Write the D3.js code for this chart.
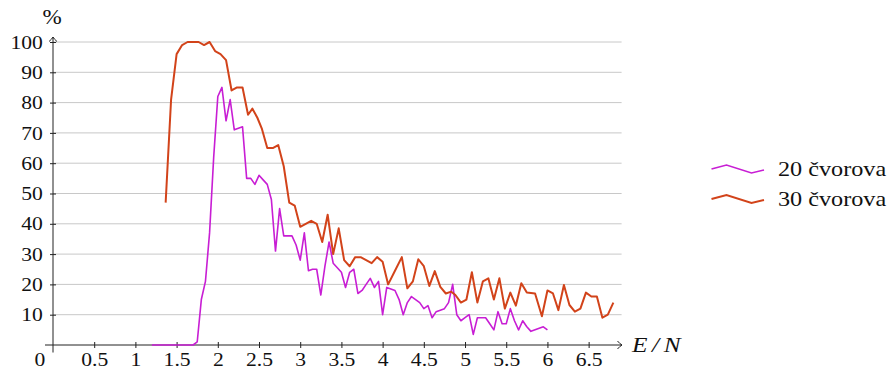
<!DOCTYPE html>
<html lang="hr">
<head>
<meta charset="UTF-8">
<title>Postotak u ovisnosti o E/N</title>
<script src="https://d3js.org/d3.v7.min.js"></script>
<style>
    body { margin: 0; background: #fff; }
    svg { display: block; background: #fff; }
    .grid line { stroke: #c8c8c8; stroke-width: 1px; }
    .axis-line { stroke: #222; stroke-width: 1px; fill: none; }
    .series { fill: none; stroke-linejoin: round; }
</style>
</head>
<body>
<svg width="894" height="372"></svg>
<script>
    // tick values
    var xTicks = [0.5, 1, 1.5, 2, 2.5, 3, 3.5, 4, 4.5, 5, 5.5, 6, 6.5];
    var yTicks = [10, 20, 30, 40, 50, 60, 70, 80, 90, 100];

    var seriesNames = ["20 čvorova", "30 čvorova"];
    var seriesColors = ["#c81ed4", "#d2431a"];

    // 20 čvorova
    var purpleX = [1.2, 1.25, 1.3, 1.35, 1.4, 1.45, 1.5, 1.55, 1.6, 1.65, 1.7,
        1.75, 1.8, 1.85, 1.9, 1.95, 2, 2.05, 2.1, 2.15, 2.2,
        2.25, 2.3, 2.35, 2.4, 2.45, 2.5, 2.55, 2.6, 2.65, 2.7,
        2.75, 2.8, 2.85, 2.9, 2.95, 3, 3.05, 3.1, 3.15, 3.2,
        3.25, 3.3, 3.35, 3.4, 3.45, 3.5, 3.55, 3.6, 3.65, 3.7,
        3.75, 3.8, 3.85, 3.9, 3.95, 4, 4.05, 4.1, 4.15, 4.2,
        4.25, 4.3, 4.35, 4.4, 4.45, 4.5, 4.55, 4.6, 4.65, 4.7,
        4.75, 4.8, 4.85, 4.9, 4.95, 5, 5.05, 5.1, 5.15, 5.2,
        5.25, 5.3, 5.35, 5.4, 5.45, 5.5, 5.55, 5.6, 5.65, 5.7,
        5.75, 5.8, 5.85, 5.9, 5.95, 6];
    var purpleY = [0, 0, 0, 0, 0, 0, 0, 0, 0, 0, 0,
        1, 15, 21, 37, 62, 82, 85, 74, 81, 71,
        71.5, 72, 55, 55, 53, 56, 54.5, 53, 48, 31,
        45, 36, 36, 36, 33, 28, 37, 24.5, 25, 25,
        16.5, 26, 34, 27, 25.5, 24, 19, 24, 25, 17,
        18, 20, 22, 19, 21, 10, 19, 18.5, 18, 15,
        10, 14, 16, 15, 14, 12, 13, 9, 11, 11.5,
        12, 14, 20, 10, 8, 9, 10, 3.5, 9, 9,
        9, 7, 5, 11, 7, 7, 12, 8, 5, 8,
        6, 4.5, 5, 5.5, 6, 5];

    // 30 čvorova
    var orangeX = [1.367, 1.433, 1.5, 1.567, 1.633, 1.7, 1.767, 1.833, 1.9, 1.967,
        2.033, 2.1, 2.167, 2.233, 2.3, 2.367, 2.42, 2.48, 2.533, 2.6,
        2.667, 2.733, 2.8, 2.867, 2.933, 3, 3.067, 3.133, 3.2, 3.267,
        3.333, 3.4, 3.467, 3.533, 3.6, 3.667, 3.733, 3.8, 3.867, 3.933,
        4, 4.067, 4.15, 4.233, 4.3, 4.367, 4.433, 4.5, 4.567, 4.633,
        4.7, 4.767, 4.833, 4.883, 4.95, 5.017, 5.083, 5.15, 5.217, 5.283,
        5.35, 5.417, 5.483, 5.55, 5.617, 5.683, 5.75, 5.85, 5.933, 6,
        6.067, 6.133, 6.2, 6.267, 6.333, 6.4, 6.467, 6.533, 6.6, 6.667,
        6.733, 6.8];
    var orangeY = [47, 81, 96, 99, 100, 100, 100, 99, 100, 97,
        96, 94, 84, 85, 85, 76, 78, 75, 71.5, 65,
        65, 66, 59, 47, 46, 39, 40, 41, 40, 34,
        43, 30, 38.5, 28, 26, 29, 29, 28, 27, 29,
        27.5, 20, 24.5, 29, 18.7, 21, 28.3, 26, 19.5, 24.4,
        19.2, 17, 17.6, 16.5, 14, 15, 24, 14, 21, 22,
        15, 22, 12, 17.3, 13, 20.4, 17.3, 17, 9.5, 18,
        17, 11.5, 19.8, 13.2, 11, 12, 17.3, 16, 16, 9,
        10, 14];

    var serif = "'Liberation Serif', 'DejaVu Serif', 'Times New Roman', serif";

    var svg = d3.select("svg");

    var x = d3.scaleLinear().domain([0, 6.9]).range([53, 621.6]);
    var y = d3.scaleLinear().domain([0, 100]).range([345, 42]);

    // grid
    svg.append("g").attr("class", "grid")
        .selectAll("line")
        .data(yTicks)
        .enter().append("line")
        .attr("x1", x(0)).attr("x2", x(6.9))
        .attr("y1", function(d) { return y(d); })
        .attr("y2", function(d) { return y(d); });

    // x axis
    var xAxis = svg.append("g")
        .attr("transform", "translate(0," + y(0) + ")")
        .call(d3.axisBottom(x).tickValues(xTicks).tickSize(3).tickFormat(d3.format("")));
    xAxis.select(".domain").remove();
    xAxis.attr("font-family", serif).attr("font-size", 18);
    xAxis.selectAll(".tick line").attr("y1", -3).attr("y2", 3).attr("stroke", "#222");
    xAxis.selectAll(".tick text").attr("y", 21).attr("dy", null).attr("fill", "#111")
        .attr("transform", "scale(1.2,1)");

    // y axis
    var yAxis = svg.append("g")
        .attr("transform", "translate(" + x(0) + ",0)")
        .call(d3.axisLeft(y).tickValues(yTicks).tickSize(3));
    yAxis.select(".domain").remove();
    yAxis.attr("font-family", serif).attr("font-size", 18);
    yAxis.selectAll(".tick line").attr("x1", -3).attr("x2", 3).attr("stroke", "#222");
    yAxis.selectAll(".tick text").attr("x", -8.5).attr("dy", "0.34em").attr("fill", "#111")
        .attr("transform", "scale(1.2,1)");

    // axis lines with arrows
    var x0 = x(0), y0 = y(0), xEnd = 622, yEnd = 37;
    svg.append("path").attr("class", "axis-line")
        .attr("d", "M45," + y0 + "H" + xEnd);
    svg.append("path").attr("class", "axis-line")
        .attr("d", "M" + x0 + ",352.5V" + yEnd);
    svg.append("path").attr("class", "axis-line").attr("stroke-width", 0.9)
        .attr("d", "M" + (xEnd - 4.5) + "," + (y0 - 4) + "Q" + (xEnd - 2) + "," + (y0 - 1) + " " + xEnd + "," + y0 +
            "Q" + (xEnd - 2) + "," + (y0 + 1) + " " + (xEnd - 4.5) + "," + (y0 + 4));
    svg.append("path").attr("class", "axis-line").attr("stroke-width", 0.9)
        .attr("d", "M" + (x0 - 4) + "," + (yEnd + 4.5) + "Q" + (x0 - 1) + "," + (yEnd + 2) + " " + x0 + "," + yEnd +
            "Q" + (x0 + 1) + "," + (yEnd + 2) + " " + (x0 + 4) + "," + (yEnd + 4.5));

    // origin and axis labels
    svg.append("text").attr("text-anchor", "middle")
        .attr("font-family", serif).attr("font-size", 18).attr("fill", "#111")
        .attr("transform", "translate(40,366) scale(1.2,1)").text("0");
    svg.append("text").attr("text-anchor", "middle")
        .attr("font-family", serif).attr("font-size", 22).attr("fill", "#111")
        .attr("transform", "translate(52,24) scale(1.05,1)").text("%");
    svg.append("text")
        .attr("font-family", serif).attr("font-size", 22).attr("font-style", "italic")
        .attr("letter-spacing", 4).attr("fill", "#111")
        .attr("transform", "translate(632,352) scale(1.15,1)").text("E/N");

    // series
    var line = d3.line()
        .x(function(d) { return x(d[0]); })
        .y(function(d) { return y(d[1]); });

    var purple = d3.zip(purpleX, purpleY);
    var orange = d3.zip(orangeX, orangeY);

    svg.append("path").datum(purple).attr("class", "series")
        .attr("stroke", seriesColors[0]).attr("stroke-width", 1.6)
        .attr("d", line);
    svg.append("path").datum(orange).attr("class", "series")
        .attr("stroke", seriesColors[1]).attr("stroke-width", 2)
        .attr("d", line);

    // legend
    var glyph = [[0, 0], [15, -4], [40, 4], [52.5, 1]];
    var legend = svg.append("g")
        .selectAll("g")
        .data(seriesNames)
        .enter().append("g")
        .attr("transform", function(d, i) { return "translate(711.5," + (169 + i * 30) + ")"; });
    legend.append("path")
        .attr("fill", "none")
        .attr("stroke", function(d, i) { return seriesColors[i]; })
        .attr("stroke-width", function(d, i) { return i === 0 ? 1.6 : 2; })
        .attr("d", d3.line()(glyph));
    legend.append("text")
        .attr("font-family", serif).attr("font-size", 22).attr("fill", "#111")
        .attr("transform", "translate(66.5,7) scale(1.1,1)")
        .text(function(d) { return d; });
</script>
</body>
</html>
